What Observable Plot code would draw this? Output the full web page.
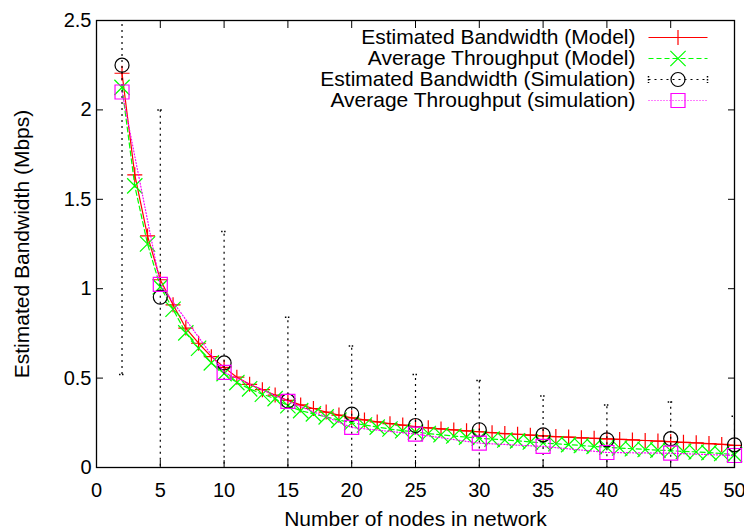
<!DOCTYPE html>
<html><head><meta charset="utf-8">
<script src="https://cdn.jsdelivr.net/npm/d3@7"></script>
<script src="https://cdn.jsdelivr.net/npm/@observablehq/plot@0.6"></script>
<style>
html,body{margin:0;padding:0;background:#fff;}
#chart svg{display:block;}
</style>
</head><body><div id="chart"></div>
<script>
const nodesModel = [2,3,4,5,6,7,8,9,10,11,12,13,14,15,16,17,18,19,20,21,22,23,24,25,26,27,28,29,30,31,32,33,34,35,36,37,38,39,40,41,42,43,44,45,46,47,48,49,50];
const bwModel = [2.205,1.637,1.295,1.05,0.91,0.78,0.695,0.62,0.56,0.505,0.465,0.435,0.405,0.375,0.35,0.33,0.31,0.293,0.278,0.266,0.255,0.245,0.237,0.229,0.222,0.216,0.21,0.205,0.2,0.195,0.19,0.186,0.181,0.177,0.173,0.17,0.166,0.163,0.16,0.157,0.154,0.151,0.148,0.145,0.141,0.138,0.134,0.129,0.124];
const thrModel = [2.126,1.575,1.25,1.01,0.885,0.753,0.667,0.585,0.525,0.475,0.44,0.41,0.385,0.345,0.318,0.3,0.283,0.265,0.25,0.238,0.226,0.215,0.206,0.198,0.19,0.183,0.176,0.17,0.164,0.159,0.154,0.149,0.143,0.137,0.133,0.128,0.123,0.118,0.113,0.109,0.105,0.101,0.097,0.094,0.09,0.087,0.083,0.078,0.072];
const nodesSim = [2,5,10,15,20,25,30,35,40,45,50];
const bwSim = [2.25,0.953,0.585,0.372,0.299,0.235,0.211,0.183,0.155,0.161,0.127];
const bwSimErr = [1.73,1.047,0.735,0.468,0.381,0.285,0.275,0.217,0.195,0.205,0.159];
const thrSim = [2.10,1.024,0.532,0.37,0.224,0.187,0.136,0.118,0.084,0.08,0.067];
const xTicks = [0,5,10,15,20,25,30,35,40,45,50];
const yTicks = [0,0.5,1,1.5,2,2.5];
const seriesNames = ["Estimated Bandwidth (Model)","Average Throughput (Model)","Estimated Bandwidth (Simulation)","Average Throughput (simulation)"];
const xLabel = "Number of nodes in network";
const yLabel = "Estimated Bandwidth (Mbps)";

const model = nodesModel.map((n, i) => ({n, bw: bwModel[i], thr: thrModel[i]}));
const sim = nodesSim.map((n, i) => ({n, bw: bwSim[i], lo: bwSim[i] - bwSimErr[i], hi: bwSim[i] + bwSimErr[i], thr: thrSim[i]}));

const FONT = "Liberation Sans, Arial, Helvetica, sans-serif";
const FS = 21;
const TFS = 20;
const RED = "#ff0000", GREEN = "#00ff00", MAG = "#ff00ff", BLACK = "#000000";

const hCap = {draw(ctx) { ctx.moveTo(-3, 0); ctx.lineTo(3, 0); }};
const vCap = {draw(ctx) { ctx.moveTo(0, -3.5); ctx.lineTo(0, 3.5); }};
const legendSeg = {draw(ctx) { ctx.moveTo(-29.5, 0); ctx.lineTo(29.5, 0); }};
const noLabel = () => "";

const styles = [
  {stroke: RED, dash: null, symbol: "plus", r: 4.9},
  {stroke: GREEN, dash: "5,3", symbol: "times", r: 7},
  {stroke: BLACK, dash: "2,4", symbol: "circle", r: 7},
  {stroke: MAG, dash: "1,2", symbol: "square", r: 7.9}
];

const legendMarks = [];
seriesNames.forEach((name, i) => {
  const s = styles[i];
  const dy = 17 + 21 * i;
  legendMarks.push(Plot.text([name], {text: d => d, frameAnchor: "top-right", dx: -99, dy, textAnchor: "end", lineAnchor: "middle", fontSize: FS, fill: "black"}));
  legendMarks.push(Plot.dot([name], {frameAnchor: "top-right", dx: -56.5, dy, symbol: legendSeg, stroke: s.stroke, strokeWidth: 1.2, strokeDasharray: s.dash}));
  if (i === 2) {
    legendMarks.push(Plot.dot([name], {frameAnchor: "top-right", dx: -86, dy, symbol: vCap, stroke: s.stroke, strokeDasharray: "1.5,1.5"}));
    legendMarks.push(Plot.dot([name], {frameAnchor: "top-right", dx: -27, dy, symbol: vCap, stroke: s.stroke, strokeDasharray: "1.5,1.5"}));
  }
  legendMarks.push(Plot.dot([name], {frameAnchor: "top-right", dx: -56.5, dy, symbol: s.symbol, r: s.r, stroke: s.stroke, fill: "none", strokeWidth: 1.2}));
});

const chart = Plot.plot({
  width: 744,
  height: 529,
  marginLeft: 96,
  marginRight: 10,
  marginTop: 20,
  marginBottom: 62,
  style: {fontFamily: FONT, fontSize: FS + "px", background: "#fff", color: "black"},
  x: {domain: [0, 50]},
  y: {domain: [0, 2.5]},
  marks: [
    // tick labels
    Plot.axisX(xTicks, {tickSize: 0, tickPadding: 15, fontSize: TFS, label: null, tickFormat: d => String(d)}),
    Plot.axisY(yTicks, {tickSize: 0, tickPadding: 5, fontSize: TFS, label: null, tickFormat: d => String(d)}),
    // inward ticks on all sides
    Plot.axisX(xTicks, {anchor: "bottom", tickSize: 7, dy: -7, tickFormat: noLabel, label: null, stroke: "black"}),
    Plot.axisX(xTicks, {anchor: "top", tickSize: 7, dy: 7, tickFormat: noLabel, label: null, stroke: "black"}),
    Plot.axisY(yTicks, {anchor: "left", tickSize: 7, dx: 7, tickFormat: noLabel, label: null, stroke: "black"}),
    Plot.axisY(yTicks, {anchor: "right", tickSize: 7, dx: -7, tickFormat: noLabel, label: null, stroke: "black"}),
    Plot.text([xLabel], {text: d => d, frameAnchor: "bottom", dy: 52, lineAnchor: "middle", fontSize: FS, fill: "black"}),
    Plot.text([yLabel], {text: d => d, frameAnchor: "left", dx: -74, rotate: -90, textAnchor: "middle", lineAnchor: "middle", fontSize: FS, fill: "black"}),
    // series 1: model bandwidth
    Plot.line(model, {x: "n", y: "bw", stroke: RED, strokeWidth: 1.2}),
    Plot.dot(model, {x: "n", y: "bw", symbol: "plus", r: 4.9, stroke: RED, strokeWidth: 1.2}),
    // series 2: model throughput
    Plot.line(model, {x: "n", y: "thr", stroke: GREEN, strokeWidth: 1.2, strokeDasharray: "5,3"}),
    Plot.dot(model, {x: "n", y: "thr", symbol: "times", r: 7, stroke: GREEN, strokeWidth: 1.2}),
    // series 3: simulated bandwidth with error bars
    Plot.ruleX(sim, {x: "n", y1: "lo", y2: "hi", stroke: BLACK, strokeWidth: 1.2, strokeDasharray: "2,4", clip: true}),
    Plot.dot(sim, {x: "n", y: "hi", symbol: hCap, stroke: BLACK, strokeDasharray: "1.5,1.5", clip: true}),
    Plot.dot(sim, {x: "n", y: "lo", symbol: hCap, stroke: BLACK, strokeDasharray: "1.5,1.5", clip: true}),
    Plot.dot(sim, {x: "n", y: "bw", symbol: "circle", r: 7, stroke: BLACK, fill: "none", strokeWidth: 1.2}),
    // series 4: simulated throughput
    Plot.line(sim, {x: "n", y: "thr", stroke: MAG, strokeWidth: 1.2, strokeDasharray: "1,2"}),
    Plot.dot(sim, {x: "n", y: "thr", symbol: "square", r: 7.9, stroke: MAG, fill: "none", strokeWidth: 1.2}),
    Plot.frame({stroke: "black", strokeWidth: 1.3}),
    ...legendMarks
  ]
});
document.getElementById("chart").appendChild(chart);
</script>
</body></html>
